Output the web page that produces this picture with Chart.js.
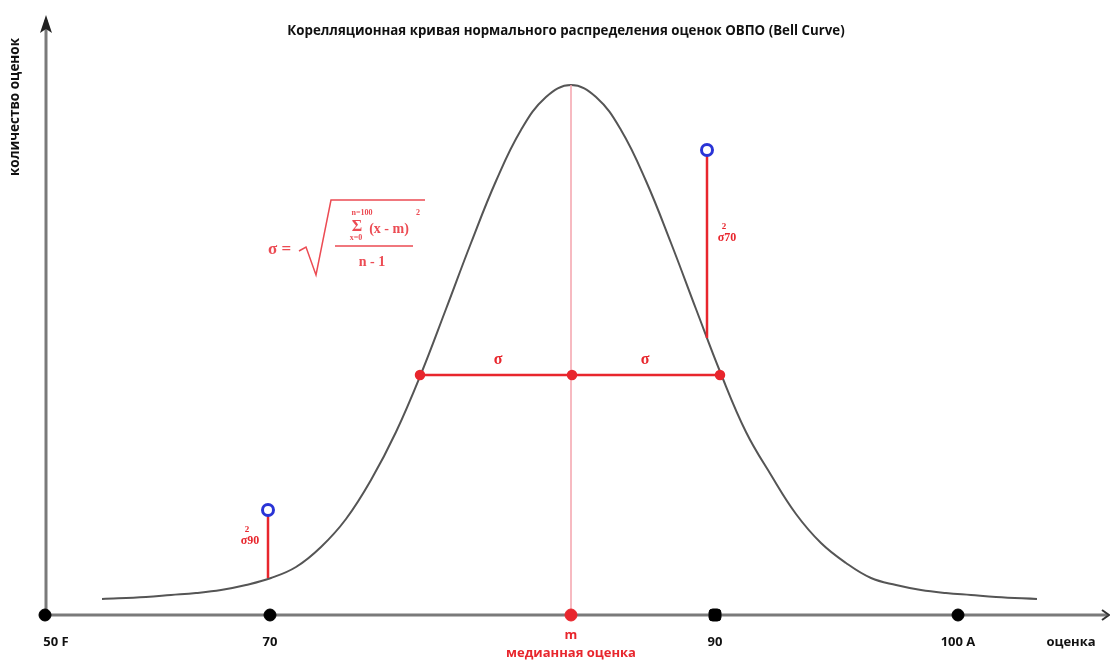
<!DOCTYPE html>
<html>
<head>
<meta charset="utf-8">
<script src="https://cdn.jsdelivr.net/npm/chart.js@4.4.1/dist/chart.umd.min.js"></script>
<style>
  html, body { margin: 0; padding: 0; background: #fff; }
  #wrap { width: 1110px; height: 660px; }
</style>
</head>
<body>
<div id="wrap"><canvas id="bellChart" width="1110" height="660"></canvas></div>
<script>
// позиции по горизонтали и высота кривой (условные единицы диаграммы)
const curveX = [57, 101, 126, 151, 176, 201, 226, 251, 276, 301, 326, 351, 376, 401, 426, 451, 476, 501, 526,
                551, 576, 601, 626, 651, 676, 701, 726, 751, 776, 801, 826, 851, 876, 901, 926, 951, 992];
const curveY = [16, 18, 20, 22, 25, 30, 37, 48, 68, 96, 135, 183, 241, 306, 372, 434, 485, 518, 530,
                518, 485, 434, 372, 306, 241, 183, 140, 101, 72, 52, 37, 30, 25, 22, 20, 18, 16];

const tickPos = [0, 225, 670, 913];
const tickLabels = ["50 F", "70", "90", "100 A"];
const medianPos = 526;
const medianTop = 530;

const sigmaPos = [375, 527, 675];
const sigmaLevel = 240;

const stemPos = [223, 662];
const stemBase = [37, 277];
const stemTop = [105, 465];
const stemLabels = ["90", "70"];

const RED = "#e8262d";
const BLUE = "#2a34d6";
const FONT = "'Open Sans', 'Noto Sans', sans-serif";
const SERIF = "'Liberation Serif', 'DejaVu Serif', serif";

const pts = (xs, ys) => xs.map((x, i) => ({ x: x, y: ys[i] }));

// оси, стрелки и подписи
const drawings = {
    id: "drawings",
    beforeDatasetsDraw(chart) {
        const c = chart.ctx;
        const x = chart.scales.x, y = chart.scales.y;
        const x0 = x.getPixelForValue(0), y0 = y.getPixelForValue(0);
        c.save();
        c.strokeStyle = "#7a7a7a";
        c.lineWidth = 3;
        c.beginPath();
        c.moveTo(x0 + 1, y0);
        c.lineTo(x0 + 1, chart.chartArea.top - 5);
        c.moveTo(x0, y0);
        c.lineTo(chart.chartArea.right + 2, y0);
        c.stroke();
        // стрелка оси X
        c.strokeStyle = "#333";
        c.lineWidth = 2;
        c.beginPath();
        c.moveTo(chart.chartArea.right - 3, y0 - 5);
        c.lineTo(chart.chartArea.right + 4, y0);
        c.lineTo(chart.chartArea.right - 3, y0 + 5);
        c.stroke();
        // стрелка оси Y
        c.fillStyle = "#222";
        c.beginPath();
        c.moveTo(x0 + 1, chart.chartArea.top - 10);
        c.lineTo(x0 - 5, chart.chartArea.top + 8);
        c.lineTo(x0 + 1, chart.chartArea.top + 4);
        c.lineTo(x0 + 7, chart.chartArea.top + 8);
        c.closePath();
        c.fill();
        c.restore();
    },
    afterDatasetsDraw(chart) {
        const c = chart.ctx;
        const x = chart.scales.x, y = chart.scales.y;
        const y0 = y.getPixelForValue(0);
        c.save();
        c.textBaseline = "middle";
        c.textAlign = "center";

        // заголовок
        c.fillStyle = "#111";
        c.font = "bold 13.3px " + FONT;
        c.fillText("Корелляционная кривая нормального распределения оценок ОВПО (Bell Curve)", 566, 31);

        // подпись оси Y
        c.save();
        c.translate(15, 107);
        c.rotate(-Math.PI / 2);
        c.font = "bold 13.5px " + FONT;
        c.fillText("количество оценок", 0, 0);
        c.restore();

        // подписи оси X
        c.font = "bold 13px " + FONT;
        tickLabels.forEach((t, i) => {
            let px = x.getPixelForValue(tickPos[i]);
            if (i === 0) px += 11;
            c.fillText(t, px, y0 + 27);
        });
        c.fillText("оценка", 1071, y0 + 27);
        c.fillStyle = RED;
        const mx = x.getPixelForValue(medianPos);
        c.fillText("m", mx, y0 + 20);
        c.fillText("медианная оценка", mx, y0 + 38);

        // сигма над отрезками
        c.font = "bold 16px " + SERIF;
        const sl = y.getPixelForValue(sigmaLevel) - 15;
        c.fillText("σ", (x.getPixelForValue(sigmaPos[0]) + x.getPixelForValue(sigmaPos[1])) / 2 + 2, sl);
        c.fillText("σ", (x.getPixelForValue(sigmaPos[1]) + x.getPixelForValue(sigmaPos[2])) / 2 - 1, sl);

        // дисперсии у стержней
        const off = [[-18, 28], [20, 85]];
        stemPos.forEach((s, i) => {
            const px = x.getPixelForValue(s) + off[i][0];
            const py = y.getPixelForValue(stemTop[i]) + off[i][1];
            c.font = "bold 9px " + SERIF;
            c.fillText("2", px - 3, py - 8);
            c.font = "bold 12px " + SERIF;
            c.fillText("σ" + stemLabels[i], px, py + 3);
        });

        // формула
        c.fillStyle = "#ec4b53";
        c.strokeStyle = "#ec4b53";
        c.lineWidth = 1.5;
        const fx = x.getPixelForValue(225), fy = y.getPixelForValue(365);
        c.textAlign = "left";
        c.font = "bold 17px " + SERIF;
        c.fillText("σ =", fx - 2, fy);
        c.beginPath();
        c.moveTo(fx + 29, fy + 1);
        c.lineTo(fx + 36, fy - 3);
        c.lineTo(fx + 46, fy + 25);
        c.lineTo(fx + 61, fy - 50);
        c.lineTo(fx + 155, fy - 50);
        c.moveTo(fx + 65, fy - 4);
        c.lineTo(fx + 143, fy - 4);
        c.stroke();
        c.textAlign = "center";
        c.font = "bold 8px " + SERIF;
        c.fillText("n=100", fx + 92, fy - 37);
        c.fillText("x=0", fx + 86, fy - 12);
        c.fillText("2", fx + 148, fy - 37);
        c.font = "bold 16px " + SERIF;
        c.fillText("Σ", fx + 87, fy - 23);
        c.font = "bold 14px " + SERIF;
        c.fillText("(x - m)", fx + 119, fy - 21);
        c.fillText("n - 1", fx + 102, fy + 12);
        c.restore();
    }
};

const ctx = document.getElementById("bellChart").getContext("2d");
new Chart(ctx, {
    type: "line",
    data: {
        datasets: [
            {
                data: pts(stemPos, stemTop),
                showLine: false,
                pointRadius: 5.5,
                pointBorderWidth: 3,
                pointBorderColor: BLUE,
                pointBackgroundColor: "#fff",
                order: 0
            },
            {
                data: pts(tickPos, tickPos.map(() => 0)),
                showLine: false,
                pointRadius: [6, 6, 7, 6],
                pointStyle: ["circle", "circle", "rectRounded", "circle"],
                pointBackgroundColor: "#000",
                pointBorderColor: "#000",
                order: 1
            },
            {
                data: [{ x: medianPos, y: 0 }],
                showLine: false,
                pointRadius: 6,
                pointBackgroundColor: RED,
                pointBorderColor: RED,
                order: 1
            },
            {
                data: pts(sigmaPos, sigmaPos.map(() => sigmaLevel)),
                borderColor: RED,
                borderWidth: 2.5,
                pointRadius: 4,
                pointBackgroundColor: RED,
                pointBorderColor: RED,
                order: 2
            },
            {
                data: [{ x: stemPos[0], y: stemBase[0] }, { x: stemPos[0], y: stemTop[0] }],
                borderColor: RED,
                borderWidth: 2.5,
                pointRadius: 0,
                order: 3
            },
            {
                data: [{ x: stemPos[1], y: stemBase[1] }, { x: stemPos[1], y: stemTop[1] }],
                borderColor: RED,
                borderWidth: 2.5,
                pointRadius: 0,
                order: 3
            },
            {
                data: [{ x: medianPos, y: 0 }, { x: medianPos, y: medianTop }],
                borderColor: "#f4a3ad",
                borderWidth: 1.5,
                pointRadius: 0,
                order: 4
            },
            {
                data: pts(curveX, curveY),
                borderColor: "#555",
                borderWidth: 2,
                pointRadius: 0,
                tension: 0.4,
                order: 5
            }
        ]
    },
    options: {
        responsive: false,
        animation: false,
        clip: false,
        layout: { autoPadding: false, padding: { left: 45, right: 5, top: 25, bottom: 45 } },
        scales: {
            x: { type: "linear", min: 0, max: 1060, display: false },
            y: { type: "linear", min: 0, max: 590, display: false }
        },
        plugins: {
            legend: { display: false },
            tooltip: { enabled: false }
        }
    },
    plugins: [drawings]
});
</script>
</body>
</html>
